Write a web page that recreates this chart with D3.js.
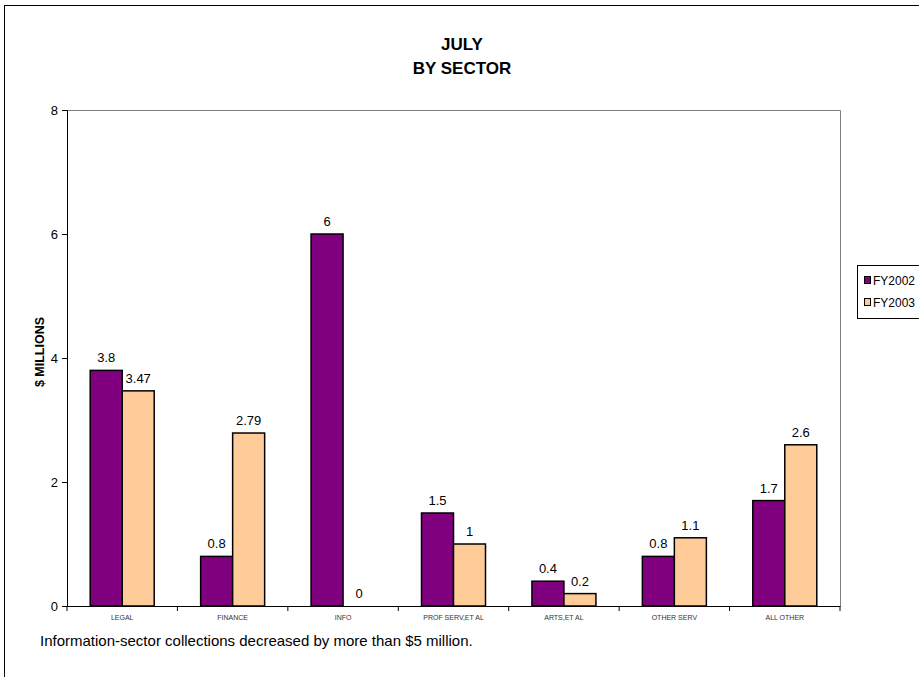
<!DOCTYPE html>
<html><head><meta charset="utf-8">
<script src="https://cdn.jsdelivr.net/npm/d3@7"></script>
<style>
html,body{margin:0;padding:0;background:#fff;}
svg{display:block;font-family:"Liberation Sans",Arial,sans-serif;}
</style></head>
<body>
<svg id="c" width="919" height="677"></svg>
<script>
const categories = ["LEGAL","FINANCE","INFO","PROF SERV,ET AL","ARTS,ET AL","OTHER SERV","ALL OTHER"];
const fy2002 = [3.8, 0.8, 6, 1.5, 0.4, 0.8, 1.7];
const fy2003 = [3.47, 2.79, 0, 1, 0.2, 1.1, 2.6];
const seriesNames = ["FY2002","FY2003"];
const seriesColors = ["#800080","#FFCC99"];
const yTicks = [0,2,4,6,8];

(function(){
const svg = d3.select("#c");
// outer border
svg.append("rect").attr("x",4.5).attr("y",5.5).attr("width",940).attr("height",700)
  .attr("fill","none").attr("stroke","#000").attr("stroke-width",1);

const pl=67, pr=840, pt=110, pb=606;
const x = d3.scaleBand().domain(categories).range([pl,pr]);
const y = d3.scaleLinear().domain([0,8]).range([pb,pt]);
const inner = d3.scaleBand().domain(seriesNames).range([0, 64]);

// plot frame (gray top/right)
svg.append("path").attr("d",`M${pl},${pt+0.5}H${pr+0.5}V${pb}`)
  .attr("fill","none").attr("stroke","#808080").attr("stroke-width",1);

const series = [fy2002, fy2003];
series.forEach((vals,si)=>{
  const g = svg.append("g");
  g.selectAll("rect").data(categories).join("rect")
    .attr("x",c=>x(c)+(x.bandwidth()-64)/2+inner(seriesNames[si]))
    .attr("y",(c,i)=>y(vals[i]))
    .attr("width",inner.bandwidth())
    .attr("height",(c,i)=>pb-y(vals[i]))
    .attr("fill",seriesColors[si])
    .attr("stroke",(c,i)=>vals[i]>0?"#000":"none").attr("stroke-width",1.5);
  g.selectAll("text").data(categories).join("text")
    .attr("x",c=>x(c)+(x.bandwidth()-64)/2+inner(seriesNames[si])+inner.bandwidth()/2)
    .attr("y",(c,i)=>y(vals[i])-8)
    .attr("text-anchor","middle").attr("font-size",13).attr("fill","#000")
    .text((c,i)=>vals[i]);
});

// y axis
const ya = svg.append("g").attr("transform",`translate(${pl},0)`)
  .call(d3.axisLeft(y).tickValues(yTicks).tickSize(5).tickPadding(4));
ya.select(".domain").attr("stroke","#000");
ya.selectAll("text").attr("font-size",13).attr("font-family","Liberation Sans, Arial, sans-serif").attr("fill","#000");

// x axis
const xa = svg.append("g").attr("transform",`translate(0,${pb})`)
  .call(d3.axisBottom(x).tickSize(0).tickPadding(9));
xa.select(".domain").attr("stroke","#000");
xa.selectAll("text").attr("font-size",7).attr("font-family","Liberation Sans, Arial, sans-serif").attr("fill","#333");
// category separator ticks
svg.append("g").selectAll("line").data(categories.concat([null])).join("line")
  .attr("x1",(c,i)=>pl+i*x.step()).attr("x2",(c,i)=>pl+i*x.step())
  .attr("y1",pb).attr("y2",pb+5).attr("stroke","#000");

// titles
svg.append("text").attr("x",462).attr("y",50).attr("text-anchor","middle")
  .attr("font-size",17).attr("font-weight","bold").text("JULY");
svg.append("text").attr("x",462).attr("y",74).attr("text-anchor","middle")
  .attr("font-size",17).attr("font-weight","bold").text("BY SECTOR");
svg.append("text").attr("transform","translate(44,352) rotate(-90)")
  .attr("text-anchor","middle").attr("font-size",12.5).attr("font-weight","bold").text("$ MILLIONS");

svg.append("text").attr("x",40).attr("y",646).attr("font-size",15).attr("fill","#000")
  .text("Information-sector collections decreased by more than $5 million.");

// legend
const lg = svg.append("g");
lg.append("rect").attr("x",857.5).attr("y",265.5).attr("width",80).attr("height",53)
  .attr("fill","#fff").attr("stroke","#000");
seriesNames.forEach((n,i)=>{
  const cy = 280 + i*22;
  lg.append("rect").attr("x",864.5).attr("y",cy-3.5).attr("width",6).attr("height",7)
    .attr("fill",seriesColors[i]).attr("stroke","#000");
  lg.append("text").attr("x",873).attr("y",cy+4.5).attr("font-size",12).text(n);
});
})();
</script>
</body></html>
